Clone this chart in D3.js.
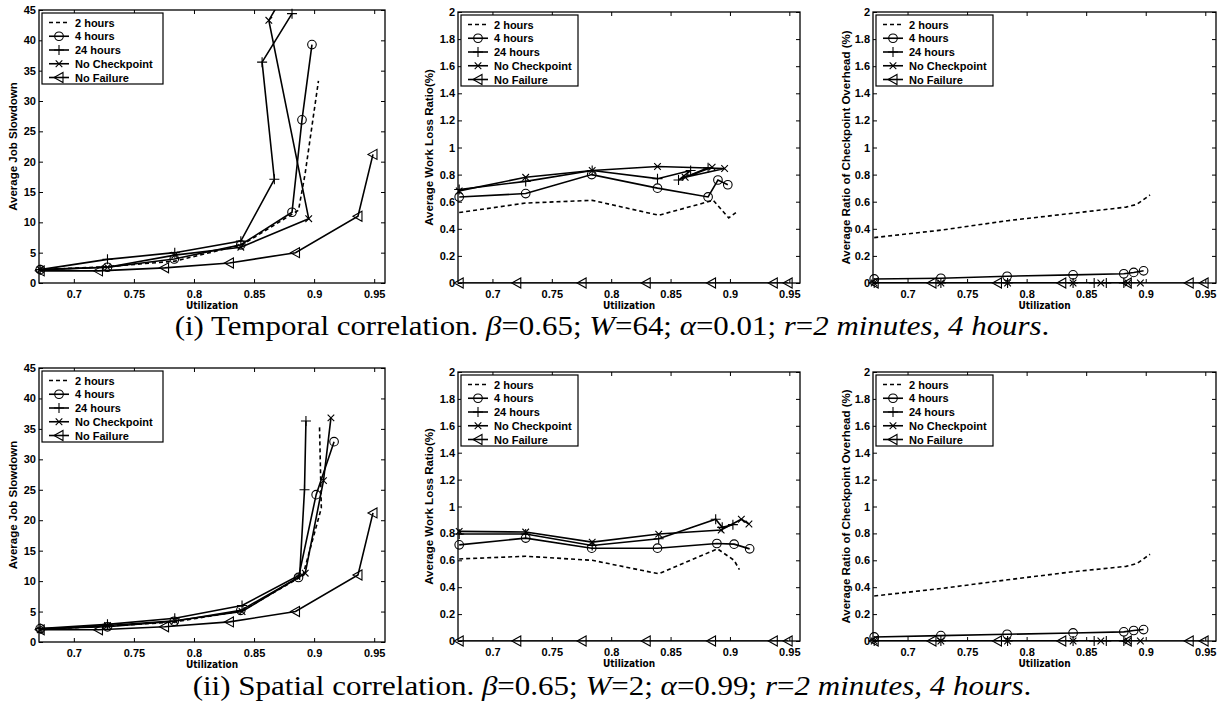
<!DOCTYPE html>
<html><head><meta charset="utf-8">
<script src="https://cdn.jsdelivr.net/npm/d3@7"></script>
<style>body{margin:0;background:#fff}</style>
</head><body>
<svg id="chart" width="1225" height="715"></svg>
<script>
// ---------- tick labels / categories ----------
const xTicks = [0.7, 0.75, 0.8, 0.85, 0.9, 0.95];
const slowTicks = [0, 5, 10, 15, 20, 25, 30, 35, 40, 45];
const ratioTicks = [0, 0.2, 0.4, 0.6, 0.8, 1, 1.2, 1.4, 1.6, 1.8, 2];
const seriesNames = ["2 hours", "4 hours", "24 hours", "No Checkpoint", "No Failure"];
const yLabels = ["Average Job Slowdown", "Average Work Loss Ratio(%)", "Average Ratio of Checkpoint Overhead (%)"];

// ---------- (i) Temporal correlation ----------
const tSlow2h  = [[0.672,2.2],[0.728,2.7],[0.784,3.6],[0.840,6.3],[0.887,12.0],[0.8925,18.0],[0.9036,33.3]];
const tSlow4h  = [[0.672,2.2],[0.728,2.6],[0.7836,3.96],[0.839,6.3],[0.8816,11.66],[0.8899,26.9],[0.8982,39.3]];
const tSlow24h = [[0.672,2.2],[0.728,3.9],[0.784,5.0],[0.839,6.9],[0.8669,17.1],[0.8567,36.4],[0.8816,44.4]];
const tSlowNC  = [[0.672,2.2],[0.728,2.6],[0.784,4.6],[0.839,5.9],[0.8955,10.6],[0.8623,43.3],[0.885,51.0]];
const tSlowNF  = [[0.672,2.0],[0.7205,2.0],[0.7755,2.5],[0.8295,3.3],[0.8845,5.0],[0.9365,11.0],[0.949,21.2]];

const tLoss2h  = [[0.672,0.52],[0.728,0.59],[0.784,0.61],[0.840,0.50],[0.886,0.61],[0.899,0.48],[0.905,0.52]];
const tLoss4h  = [[0.672,0.635],[0.728,0.66],[0.7836,0.80],[0.839,0.70],[0.8816,0.635],[0.8899,0.76],[0.8982,0.725]];
const tLoss24h = [[0.672,0.69],[0.728,0.75],[0.784,0.83],[0.839,0.77],[0.8669,0.83],[0.8567,0.76],[0.8816,0.85]];
const tLossNC  = [[0.672,0.68],[0.728,0.78],[0.784,0.83],[0.839,0.86],[0.8955,0.845],[0.8623,0.78],[0.885,0.855]];
const tLossNF  = [[0.672,0],[0.7205,0],[0.7755,0],[0.8295,0],[0.8845,0],[0.9365,0],[0.949,0]];

const tCk2h  = [[0.672,0.335],[0.728,0.39],[0.784,0.46],[0.839,0.515],[0.8835,0.56],[0.8925,0.58],[0.9036,0.65]];
const tCk4h  = [[0.672,0.03],[0.728,0.035],[0.7836,0.05],[0.839,0.06],[0.8816,0.068],[0.8899,0.078],[0.8982,0.09]];
const tCk24h = [[0.672,0],[0.728,0],[0.784,0],[0.839,0],[0.8669,0],[0.8567,0],[0.8816,0]];
const tCkNC  = [[0.672,0],[0.728,0],[0.784,0],[0.839,0],[0.8955,0],[0.8623,0],[0.885,0]];
const tCkNF  = [[0.672,0],[0.7205,0],[0.7755,0],[0.8295,0],[0.8845,0],[0.9365,0],[0.949,0]];

// ---------- (ii) Spatial correlation ----------
const sSlow2h  = [[0.672,2.1],[0.728,2.6],[0.784,3.3],[0.840,5.1],[0.8906,10.9],[0.906,22.0],[0.9045,35.3]];
const sSlow4h  = [[0.672,2.2],[0.728,2.5],[0.7836,3.4],[0.839,5.2],[0.887,10.6],[0.9017,24.2],[0.9166,32.9]];
const sSlow24h = [[0.672,2.2],[0.728,2.9],[0.784,3.9],[0.840,6.0],[0.888,11.0],[0.892,25.0],[0.8932,36.3]];
const sSlowNC  = [[0.672,2.0],[0.728,2.7],[0.784,3.5],[0.840,5.0],[0.8926,11.3],[0.9078,26.5],[0.914,36.8]];
const sSlowNF  = [[0.672,2.0],[0.7205,2.0],[0.7755,2.5],[0.8295,3.3],[0.8845,5.0],[0.9365,11.0],[0.949,21.2]];

const sLoss2h  = [[0.672,0.61],[0.728,0.63],[0.784,0.60],[0.840,0.50],[0.8895,0.685],[0.9035,0.60],[0.908,0.53]];
const sLoss4h  = [[0.672,0.715],[0.728,0.765],[0.7836,0.69],[0.839,0.69],[0.889,0.725],[0.9035,0.72],[0.9166,0.685]];
const sLoss24h = [[0.672,0.795],[0.728,0.795],[0.784,0.71],[0.840,0.76],[0.888,0.905],[0.8935,0.845],[0.9025,0.865]];
const sLossNC  = [[0.672,0.815],[0.728,0.81],[0.784,0.735],[0.840,0.795],[0.8926,0.825],[0.9096,0.905],[0.916,0.87]];
const sLossNF  = [[0.672,0],[0.7205,0],[0.7755,0],[0.8295,0],[0.8845,0],[0.9365,0],[0.949,0]];

const sCk2h  = [[0.672,0.335],[0.728,0.39],[0.784,0.455],[0.839,0.515],[0.8835,0.555],[0.8925,0.575],[0.9036,0.645]];
const sCk4h  = [[0.672,0.03],[0.728,0.04],[0.7836,0.05],[0.839,0.06],[0.8816,0.068],[0.8899,0.078],[0.8982,0.085]];
const sCk24h = [[0.672,0],[0.728,0],[0.784,0],[0.839,0],[0.8669,0],[0.8567,0],[0.8816,0]];
const sCkNC  = [[0.672,0],[0.728,0],[0.784,0],[0.839,0],[0.8955,0],[0.8623,0],[0.885,0]];
const sCkNF  = [[0.672,0],[0.7205,0],[0.7755,0],[0.8295,0],[0.8845,0],[0.9365,0],[0.949,0]];

// ---------- layout ----------
const svg = d3.select("#chart");
const SANS = "'Liberation Sans', Arial, Helvetica, sans-serif";
const styles = [
  {dash: "4,3", marker: null},
  {dash: null, marker: "circle"},
  {dash: null, marker: "plus"},
  {dash: null, marker: "cross"},
  {dash: null, marker: "triL"}
];
const colLeft = [[39, 385], [458, 800], [873, 1216]];
const rows = [
  {tops: [10, 12, 12], bottoms: [283, 283, 283], series: [
      [tSlow2h, tSlow4h, tSlow24h, tSlowNC, tSlowNF],
      [tLoss2h, tLoss4h, tLoss24h, tLossNC, tLossNF],
      [tCk2h, tCk4h, tCk24h, tCkNC, tCkNF]]},
  {tops: [368, 372, 372], bottoms: [642, 641, 641], series: [
      [sSlow2h, sSlow4h, sSlow24h, sSlowNC, sSlowNF],
      [sLoss2h, sLoss4h, sLoss24h, sLossNC, sLossNF],
      [sCk2h, sCk4h, sCk24h, sCkNC, sCkNF]]}
];
const yDomains = [[0, 45], [0, 2], [0, 2]];
const yTickSets = [slowTicks, ratioTicks, ratioTicks];
const xDomain = [0.671, 0.959];

function marker(g, type, x, y) {
  const st = {fill: "none", stroke: "#000", "stroke-width": 1.1};
  let el;
  if (type === "circle") el = g.append("circle").attr("cx", x).attr("cy", y).attr("r", 4.3);
  else if (type === "plus") el = g.append("path").attr("d", `M${x-5},${y}H${x+5}M${x},${y-5}V${y+5}`);
  else if (type === "cross") el = g.append("path").attr("d", `M${x-3.3},${y-3.3}L${x+3.3},${y+3.3}M${x-3.3},${y+3.3}L${x+3.3},${y-3.3}`);
  else if (type === "triL") el = g.append("path").attr("d", `M${x-5},${y}L${x+4},${y-5}L${x+4},${y+5}Z`);
  if (el) for (const k in st) el.attr(k, st[k]);
}

let clipId = 0;
rows.forEach((row, ri) => {
  [0, 1, 2].forEach(pi => {
    const [x0, x1] = colLeft[pi];
    const y0 = row.tops[pi], y1 = row.bottoms[pi];
    const xs = d3.scaleLinear().domain(xDomain).range([x0, x1]);
    const ys = d3.scaleLinear().domain(yDomains[pi]).range([y1, y0]);
    const g = svg.append("g");

    const cid = "clip" + (clipId++);
    svg.append("clipPath").attr("id", cid).append("rect")
      .attr("x", x0).attr("y", y0).attr("width", x1 - x0).attr("height", y1 - y0);

    const fmt = d => String(d);
    const axB = g.append("g").attr("transform", `translate(0,${y1})`)
      .call(d3.axisBottom(xs).tickValues(xTicks).tickFormat(fmt).tickSizeInner(-4).tickSizeOuter(0).tickPadding(7));
    const axT = g.append("g").attr("transform", `translate(0,${y0})`)
      .call(d3.axisTop(xs).tickValues(xTicks).tickFormat("").tickSizeInner(-4).tickSizeOuter(0));
    const axL = g.append("g").attr("transform", `translate(${x0},0)`)
      .call(d3.axisLeft(ys).tickValues(yTickSets[pi]).tickFormat(fmt).tickSizeInner(-4).tickSizeOuter(0).tickPadding(3));
    const axR = g.append("g").attr("transform", `translate(${x1},0)`)
      .call(d3.axisRight(ys).tickValues(yTickSets[pi]).tickFormat("").tickSizeInner(-4).tickSizeOuter(0));
    [axB, axT, axL, axR].forEach(a => {
      a.select(".domain").remove();
      a.selectAll("line").attr("stroke", "#000").attr("stroke-width", 1);
      a.selectAll("text").attr("font-family", SANS).attr("font-weight", "bold")
        .attr("font-size", 11).attr("fill", "#000");
    });
    g.append("rect").attr("x", x0).attr("y", y0).attr("width", x1 - x0).attr("height", y1 - y0)
      .attr("fill", "none").attr("stroke", "#000").attr("stroke-width", 1.3);

    // axis labels
    g.append("text").attr("x", (x0 + x1) / 2).attr("y", y1 + 26)
      .attr("text-anchor", "middle").attr("font-family", "'DejaVu Sans Condensed', " + SANS)
      .attr("font-stretch", "condensed").attr("font-weight", "bold").attr("font-size", 10).text("Utilization");
    const lx = [14, 430, 847][pi];
    g.append("text").attr("transform", `translate(${lx},${(y0 + y1) / 2}) rotate(-90)`)
      .attr("text-anchor", "middle").attr("dominant-baseline", "middle")
      .attr("font-family", SANS).attr("font-weight", "bold").attr("font-size", 11.5).text(yLabels[pi]);

    // series
    const line = d3.line().x(d => xs(d[0])).y(d => ys(d[1]));
    row.series[pi].forEach((data, si) => {
      const s = styles[si];
      g.append("path").attr("d", line(data)).attr("clip-path", `url(#${cid})`)
        .attr("fill", "none").attr("stroke", "#000").attr("stroke-width", 1.6)
        .attr("stroke-dasharray", s.dash);
      if (s.marker) {
        const mg = g.append("g");
        data.filter(d => d[1] <= yDomains[pi][1] && d[1] >= yDomains[pi][0])
          .forEach(d => marker(mg, s.marker, xs(d[0]), ys(d[1])));
      }
    });

    // legend
    const bx = x0 + 3, by = y0 + 3, bw = pi === 0 ? 121 : 117, bh = 71;
    const lg = g.append("g");
    lg.append("rect").attr("x", bx).attr("y", by).attr("width", bw).attr("height", bh)
      .attr("fill", "#fff").attr("stroke", "#000").attr("stroke-width", 1.2);
    seriesNames.forEach((name, si) => {
      const cy = by + 9.5 + si * 13.75;
      const s = styles[si];
      lg.append("line").attr("x1", bx + 7).attr("x2", bx + 27).attr("y1", cy).attr("y2", cy)
        .attr("stroke", "#000").attr("stroke-width", 1.6).attr("stroke-dasharray", s.dash);
      if (s.marker) marker(lg, s.marker, bx + 17, cy);
      lg.append("text").attr("x", bx + 33).attr("y", cy + 4)
        .attr("font-family", SANS).attr("font-weight", "bold").attr("font-size", 11).text(name);
    });
  });
});

// captions
const SERIF = "'Liberation Serif', 'Times New Roman', serif";
const captions = [
  {y: 335, width: 875, parts: [["(i) Temporal correlation. ", 0], ["β", 1], ["=0.65; ", 0], ["W", 1], ["=64; ", 0], ["α", 1], ["=0.01; ", 0], ["r", 1], ["=", 0], ["2 minutes, 4 hours", 1], [".", 0]]},
  {y: 695, width: 839, parts: [["(ii) Spatial correlation. ", 0], ["β", 1], ["=0.65; ", 0], ["W", 1], ["=2; ", 0], ["α", 1], ["=0.99; ", 0], ["r", 1], ["=", 0], ["2 minutes, 4 hours", 1], [".", 0]]}
];
captions.forEach(c => {
  const cg = svg.append("g");
  const t = cg.append("text").attr("x", 0).attr("y", 0).attr("text-anchor", "middle")
    .attr("font-family", SERIF).attr("font-size", 28).attr("fill", "#000");
  c.parts.forEach(([s, it]) => t.append("tspan").attr("font-style", it ? "italic" : "normal").text(s));
  const w = t.node().getBBox().width;
  const k = w > 0 ? c.width / w : 1;
  cg.attr("transform", `translate(612,${c.y}) scale(${k},1)`);
});
</script>
</body></html>
